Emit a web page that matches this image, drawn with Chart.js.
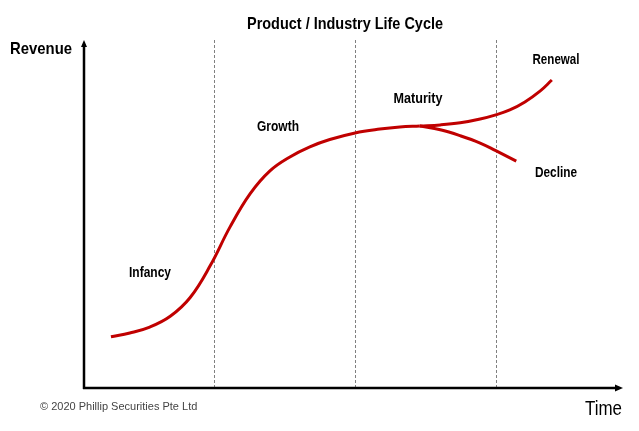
<!DOCTYPE html>
<html>
<head>
<meta charset="utf-8">
<script src="https://cdn.jsdelivr.net/npm/chart.js@4.4.0/dist/chart.umd.min.js"></script>
<style>
  body { margin: 0; background: #fff; }
  #wrap { width: 639px; height: 431px; position: relative; }
</style>
</head>
<body>
<div id="wrap"><canvas id="lifeCycle"></canvas></div>
<script>
// curve (time 0-100, revenue 0-100)
const mainTime    = [5.0, 8.5, 12.2, 16.0, 19.7, 23.4, 27.1, 30.8, 34.5, 38.2, 41.9, 45.6, 50.3, 54.9, 58.6, 62.3];
const mainRevenue = [14.7, 15.8, 17.5, 20.6, 26.0, 35.1, 46.3, 55.8, 62.4, 66.4, 69.3, 71.4, 73.3, 74.4, 75.0, 75.3];
const renewalTime    = [62.3, 66.1, 69.8, 73.5, 76.4, 79.0, 81.8, 84.6, 86.8];
const renewalRevenue = [75.3, 75.6, 76.2, 77.3, 78.5, 79.9, 82.2, 85.3, 88.5];
const declineTime    = [62.3, 66.1, 69.8, 73.5, 76.4, 80.2];
const declineRevenue = [75.3, 74.2, 72.5, 70.4, 68.2, 65.2];
const phaseBounds = [24.1, 50.3, 76.4];
const stageNames = ['Infancy', 'Growth', 'Maturity', 'Renewal', 'Decline'];

const FONT = '"Liberation Sans", Arial, sans-serif';
const RED = '#C00000';

function toPoints(xs, ys) {
    return xs.map((x, i) => ({ x: x, y: ys[i] }));
}

function lineSet(xs, ys) {
    return {
        data: toPoints(xs, ys),
        showLine: true,
        borderColor: RED,
        borderWidth: 3,
        pointRadius: 0,
        tension: 0.4,
        fill: false
    };
}

// squeeze text sideways so it looks like a narrow font
function narrowText(ctx, text, x, y, font, width, align) {
    ctx.save();
    ctx.font = font;
    const w = ctx.measureText(text).width;
    const k = width / w;
    let left = x;
    if (align === 'center') left = x - width / 2;
    if (align === 'right') left = x - width;
    ctx.translate(left, y);
    ctx.scale(k, 1);
    ctx.textAlign = 'left';
    ctx.textBaseline = 'middle';
    ctx.fillText(text, 0, 0);
    ctx.restore();
}

// axes, dashed phase lines and the text
const decorPlugin = {
    id: 'decor',
    beforeDatasetsDraw(chart) {
        const ctx = chart.ctx;
        const xs = chart.scales.x;
        const area = chart.chartArea;
        ctx.save();
        ctx.strokeStyle = '#808080';
        ctx.lineWidth = 1;
        ctx.setLineDash([3, 2]);
        phaseBounds.forEach(v => {
            const px = Math.round(xs.getPixelForValue(v)) + 0.5;
            ctx.beginPath();
            ctx.moveTo(px, area.top);
            ctx.lineTo(px, area.bottom);
            ctx.stroke();
        });
        ctx.restore();
    },
    afterDatasetsDraw(chart) {
        const ctx = chart.ctx;
        const xs = chart.scales.x, ys = chart.scales.y;
        const area = chart.chartArea;
        const x0 = xs.getPixelForValue(0), y0 = ys.getPixelForValue(0);
        ctx.save();
        ctx.strokeStyle = '#000';
        ctx.fillStyle = '#000';
        ctx.lineWidth = 2.5;
        ctx.beginPath();
        ctx.moveTo(x0, y0 + 1);
        ctx.lineTo(x0, area.top + 4);
        ctx.moveTo(x0 - 1, y0);
        ctx.lineTo(area.right - 5, y0);
        ctx.stroke();
        // arrow heads
        ctx.beginPath();
        ctx.moveTo(x0, area.top);
        ctx.lineTo(x0 - 3, area.top + 7);
        ctx.lineTo(x0 + 3, area.top + 7);
        ctx.closePath();
        ctx.fill();
        ctx.beginPath();
        ctx.moveTo(area.right, y0);
        ctx.lineTo(area.right - 8, y0 - 3.5);
        ctx.lineTo(area.right - 8, y0 + 3.5);
        ctx.closePath();
        ctx.fill();

        // text
        ctx.fillStyle = '#000';
        narrowText(ctx, 'Product / Industry Life Cycle', 345, 24, 'bold 17px ' + FONT, 196, 'center');
        narrowText(ctx, 'Revenue', 10, 49, 'bold 17px ' + FONT, 62, 'left');
        narrowText(ctx, 'Time', 622, 409, '20px ' + FONT, 37, 'right');

        ctx.fillStyle = '#444';
        ctx.font = '11px ' + FONT;
        ctx.textAlign = 'left';
        ctx.textBaseline = 'middle';
        ctx.fillText('\u00A9 2020 Phillip Securities Pte Ltd', 40, 407);

        const labelPos = [[150, 273, 42], [278, 127, 42], [418, 99, 49], [556, 60, 47], [556, 173, 42]];
        ctx.fillStyle = '#000';
        stageNames.forEach((name, i) => {
            narrowText(ctx, name, labelPos[i][0], labelPos[i][1], 'bold 14px ' + FONT, labelPos[i][2], 'center');
        });
        ctx.restore();
    }
};

new Chart(document.getElementById('lifeCycle'), {
    type: 'scatter',
    data: {
        datasets: [
            lineSet(mainTime, mainRevenue),
            lineSet(renewalTime, renewalRevenue),
            lineSet(declineTime, declineRevenue)
        ]
    },
    options: {
        responsive: true,
        maintainAspectRatio: false,
        animation: false,
        layout: { padding: { left: 84, right: 16, top: 40, bottom: 43 } },
        scales: {
            x: { type: 'linear', min: 0, max: 100, display: false },
            y: { type: 'linear', min: 0, max: 100, display: false }
        },
        plugins: {
            legend: { display: false },
            tooltip: { enabled: false }
        }
    },
    plugins: [decorPlugin]
});
</script>
</body>
</html>
